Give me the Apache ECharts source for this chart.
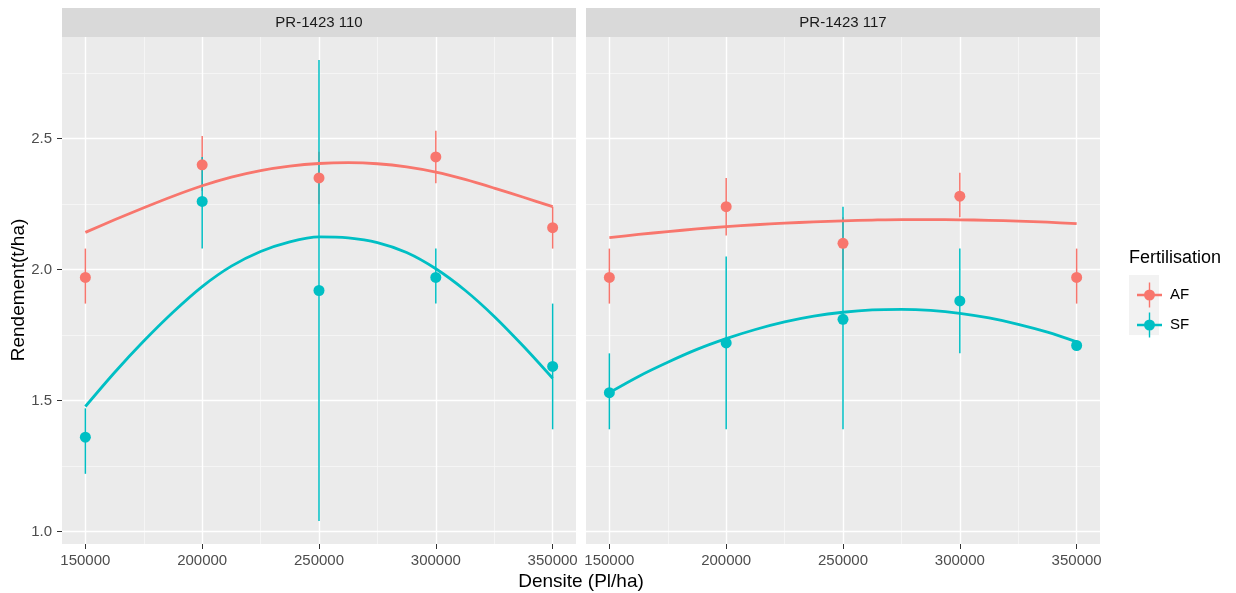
<!DOCTYPE html>
<html>
<head>
<meta charset="utf-8">
<script src="https://cdn.jsdelivr.net/npm/echarts@6/dist/echarts.min.js"></script>
<style>
  html, body { margin: 0; padding: 0; background: #ffffff; }
  #chart { width: 1236px; height: 593px; }
</style>
</head>
<body>
<div id="chart"></div>
<script>
// ---------- data ----------
const panels = ['PR-1423 110', 'PR-1423 117'];
const groups = ['AF', 'SF'];
const densities = [150000, 200000, 250000, 300000, 350000];

// PR-1423 110
const af110 = [1.97, 2.40, 2.35, 2.43, 2.16];
const af110Lo = [1.87, 2.30, 2.25, 2.33, 2.08];
const af110Hi = [2.08, 2.51, 2.45, 2.53, 2.24];
const sf110 = [1.36, 2.26, 1.92, 1.97, 1.63];
const sf110Lo = [1.22, 2.08, 1.04, 1.87, 1.39];
const sf110Hi = [1.47, 2.43, 2.80, 2.08, 1.87];

// PR-1423 117
const af117 = [1.97, 2.24, 2.10, 2.28, 1.97];
const af117Lo = [1.87, 2.13, 2.00, 2.20, 1.87];
const af117Hi = [2.08, 2.35, 2.20, 2.37, 2.08];
const sf117 = [1.53, 1.72, 1.81, 1.88, 1.71];
const sf117Lo = [1.39, 1.39, 1.39, 1.68, 1.69];
const sf117Hi = [1.68, 2.05, 2.24, 2.08, 1.73];

// fitted (smooth) curves, every 12 500 Pl/ha
const curveX = [150000, 162500, 175000, 187500, 200000, 212500, 225000, 237500, 250000,
                262500, 275000, 287500, 300000, 312500, 325000, 337500, 350000];
const af110Fit = [2.142, 2.190, 2.236, 2.280, 2.320, 2.353, 2.378, 2.395, 2.405,
                  2.408, 2.404, 2.392, 2.372, 2.344, 2.311, 2.276, 2.240];
const sf110Fit = [1.477, 1.607, 1.727, 1.837, 1.935, 2.013, 2.069, 2.106, 2.125,
                  2.121, 2.103, 2.065, 2.003, 1.921, 1.821, 1.707, 1.585];
const af117Fit = [2.122, 2.134, 2.145, 2.155, 2.164, 2.171, 2.177, 2.182, 2.186,
                  2.189, 2.191, 2.191, 2.19, 2.188, 2.185, 2.181, 2.175];
const sf117Fit = [1.530, 1.592, 1.646, 1.695, 1.736, 1.771, 1.800, 1.822, 1.837,
                  1.846, 1.848, 1.844, 1.833, 1.815, 1.791, 1.761, 1.724];

// ticks
const xTicks = [150000, 200000, 250000, 300000, 350000];
const xMinor = [175000, 225000, 275000, 325000];
const yTicks = [1.0, 1.5, 2.0, 2.5];
const yMinor = [1.25, 1.75, 2.25, 2.75];

// ---------- styling ----------
const COLORS = { AF: '#F8766D', SF: '#00BFC4' };
const FONT = '"Liberation Sans", Arial, sans-serif';

const panelData = [
  { pts: { AF: af110, SF: sf110 }, lo: { AF: af110Lo, SF: sf110Lo }, hi: { AF: af110Hi, SF: sf110Hi }, fit: { AF: af110Fit, SF: sf110Fit } },
  { pts: { AF: af117, SF: sf117 }, lo: { AF: af117Lo, SF: sf117Lo }, hi: { AF: af117Hi, SF: sf117Hi }, fit: { AF: af117Fit, SF: sf117Fit } }
];

const gridLeft = [62, 586];
const gridW = 514;
const gridTop = 37;
const gridH = 507;

const grids = gridLeft.map(l => ({ left: l, top: gridTop, width: gridW, height: gridH, backgroundColor: '#EBEBEB', show: true, borderWidth: 0 }));

const xAxes = gridLeft.map((l, i) => ({
  type: 'value', gridIndex: i, min: 140000, max: 360000,
  axisLine: { show: false },
  splitLine: { show: false },
  axisTick: { show: true, length: 5, lineStyle: { color: '#333333', width: 1 }, customValues: xTicks },
  axisLabel: { customValues: xTicks, fontSize: 15, color: '#4D4D4D', margin: 9, fontFamily: FONT, formatter: v => String(v) }
}));

const yAxes = gridLeft.map((l, i) => ({
  type: 'value', gridIndex: i, min: 0.952, max: 2.888,
  axisLine: { show: false },
  splitLine: { show: false },
  axisTick: { show: i === 0, length: 5, lineStyle: { color: '#333333', width: 1 }, customValues: yTicks },
  axisLabel: { show: i === 0, customValues: yTicks, fontSize: 15, color: '#4D4D4D', margin: 10, fontFamily: FONT, formatter: v => v.toFixed(1) }
}));

const series = [];
panelData.forEach((pd, i) => {
  // gridlines (behind everything)
  const ml = [];
  xMinor.forEach(v => ml.push({ xAxis: v, lineStyle: { color: '#F7F7F7', width: 0.8, type: 'solid' } }));
  yMinor.forEach(v => ml.push({ yAxis: v, lineStyle: { color: '#F7F7F7', width: 0.8, type: 'solid' } }));
  xTicks.forEach(v => ml.push({ xAxis: v, lineStyle: { color: '#FFFFFF', width: 1.4, type: 'solid' } }));
  yTicks.forEach(v => ml.push({ yAxis: v, lineStyle: { color: '#FFFFFF', width: 1.4, type: 'solid' } }));
  series.push({
    name: 'grid' + i, type: 'scatter', xAxisIndex: i, yAxisIndex: i, data: [], z: 1, silent: true,
    markLine: { z: 1, silent: true, symbol: ['none', 'none'], label: { show: false }, animation: false, data: ml }
  });

  groups.forEach(g => {
    const rows = densities.map((d, k) => [d, pd.lo[g][k], pd.hi[g][k]]);
    series.push({
      name: g, type: 'custom', xAxisIndex: i, yAxisIndex: i, z: 2,
      itemStyle: { color: COLORS[g] },
      encode: { x: 0, y: [1, 2] },
      data: rows,
      renderItem: (params, api) => {
        const x = api.value(0);
        const p1 = api.coord([x, api.value(1)]);
        const p2 = api.coord([x, api.value(2)]);
        return { type: 'line', shape: { x1: p1[0], y1: p1[1], x2: p2[0], y2: p2[1] }, style: { stroke: COLORS[g], lineWidth: 1.5 } };
      }
    });
  });
  groups.forEach(g => {
    series.push({
      name: g, type: 'line', xAxisIndex: i, yAxisIndex: i, z: 3,
      smooth: 0.3, showSymbol: false, symbol: 'none',
      itemStyle: { color: COLORS[g] },
      lineStyle: { color: COLORS[g], width: 2.8 },
      data: curveX.map((x, k) => [x, pd.fit[g][k]])
    });
  });
  groups.forEach(g => {
    series.push({
      name: g, type: 'scatter', xAxisIndex: i, yAxisIndex: i, z: 4,
      symbol: 'circle', symbolSize: 11,
      itemStyle: { color: COLORS[g], opacity: 1 },
      data: densities.map((d, k) => [d, pd.pts[g][k]])
    });
  });
});

const keyIcon = 'path://M0 112 L250 112 L250 138 L0 138 Z M118 0 L132 0 L132 250 L118 250 Z M70 125 A55 55 0 1 1 180 125 A55 55 0 1 1 70 125 Z';

const graphic = [];
panels.forEach((p, i) => {
  graphic.push({ type: 'rect', left: gridLeft[i], top: 8, shape: { width: gridW, height: 29 }, style: { fill: '#D9D9D9' }, silent: true });
  graphic.push({ type: 'text', x: gridLeft[i] + gridW / 2, y: 22.5, style: { text: p, fill: '#1A1A1A', font: '15px ' + FONT, align: 'center', verticalAlign: 'middle' }, silent: true });
});
graphic.push({ type: 'rect', left: 1129, top: 275, shape: { width: 30, height: 60 }, style: { fill: '#F2F2F2' }, silent: true, z: -1 });
graphic.push({ type: 'text', x: 581, y: 582, style: { text: 'Densite (Pl/ha)', fill: '#000000', font: '19px ' + FONT, align: 'center', verticalAlign: 'middle' }, silent: true });
graphic.push({ type: 'text', x: 19, y: 290, rotation: Math.PI / 2, style: { text: 'Rendement(t/ha)', fill: '#000000', font: '19px ' + FONT, align: 'center', verticalAlign: 'middle' }, silent: true });
graphic.push({ type: 'text', x: 1129, y: 258, style: { text: 'Fertilisation', fill: '#000000', font: '18px ' + FONT, align: 'left', verticalAlign: 'middle' }, silent: true });

const option = {
  animation: false,
  backgroundColor: '#FFFFFF',
  textStyle: { fontFamily: FONT },
  grid: grids,
  xAxis: xAxes,
  yAxis: yAxes,
  legend: {
    orient: 'vertical', left: 1132, top: 277.5,
    itemWidth: 25, itemHeight: 25, itemGap: 5,
    selectedMode: false,
    data: groups.map(g => ({ name: g, icon: keyIcon, itemStyle: { color: COLORS[g] } })),
    textStyle: { fontSize: 15, color: '#000000', fontFamily: FONT, padding: [0, 0, 0, 3] }
  },
  graphic: graphic,
  series: series
};

const chart = echarts.init(document.getElementById('chart'), null, { renderer: 'canvas' });
chart.setOption(option);
</script>
</body>
</html>
